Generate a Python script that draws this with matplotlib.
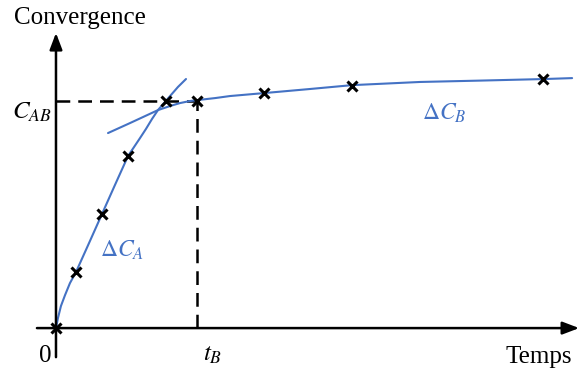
"""Convergence vs time sketch: two fitted branches (dC_A, dC_B) meeting at t_B."""

import matplotlib

matplotlib.use("Agg")
import matplotlib.pyplot as plt

plt.rcParams["font.family"] = ["Liberation Serif", "DejaVu Serif"]
plt.rcParams["mathtext.fontset"] = "stix"

BLUE = "#4472C4"

# measured points (t normalised to t_B, convergence normalised to C_AB)
meas_t = [0.0, 0.142, 0.326, 0.511, 0.780, 1.0, 1.475, 2.099, 3.454]
meas_c = [0.0, 0.247, 0.502, 0.758, 1.0, 1.0, 1.035, 1.066, 1.097]

# first branch (fast rise)
curve_a_t = [0.0, 0.014, 0.035, 0.064, 0.099, 0.142, 0.234, 0.326, 0.418,
             0.511, 0.553, 0.596, 0.638, 0.681, 0.723, 0.766, 0.809, 0.865,
             0.922]
curve_a_c = [0.0, 0.044, 0.097, 0.145, 0.198, 0.247, 0.374, 0.502, 0.630,
             0.758, 0.797, 0.837, 0.877, 0.921, 0.960, 0.991, 1.022, 1.062,
             1.097]

# second branch (slow saturation)
curve_b_t = [0.369, 0.525, 0.723, 0.809, 0.879, 0.950, 1.0, 1.128, 1.234,
             1.475, 1.801, 2.099, 2.582, 3.007, 3.468, 3.660]
curve_b_c = [0.859, 0.903, 0.960, 0.978, 0.991, 1.0, 1.004, 1.013, 1.022,
             1.035, 1.053, 1.070, 1.084, 1.090, 1.097, 1.101]

T_B = 1.0
C_AB = 1.0

fig = plt.figure(figsize=(5.8, 3.71), dpi=100)
ax = fig.add_axes([0, 0, 1, 1])
ax.set_xlim(-0.397, 3.716)
ax.set_ylim(-0.189, 1.445)
ax.axis("off")

# ── axes with arrows ──
arrow = dict(arrowstyle="-|>,head_length=1.0,head_width=0.38", lw=1.8,
             color="black", shrinkA=0, shrinkB=0, mutation_scale=10)
ax.annotate("", xy=(0, 1.30), xytext=(0, -0.128), arrowprops=arrow)
ax.annotate("", xy=(3.71, 0), xytext=(-0.135, 0), arrowprops=arrow)

# ── dashed guides ──
dash = (0, (5.5, 3.2))
ax.plot([0, T_B], [C_AB, C_AB], color="black", lw=1.8, linestyle=dash)
ax.plot([T_B, T_B], [0, C_AB], color="black", lw=1.8, linestyle=dash)

# ── curves ──
ax.plot(curve_a_t, curve_a_c, color=BLUE, lw=1.5, solid_capstyle="round",
        solid_joinstyle="round")
ax.plot(curve_b_t, curve_b_c, color=BLUE, lw=1.5, solid_capstyle="round",
        solid_joinstyle="round")

ax.plot(meas_t, meas_c, linestyle="none", marker="x", color="black",
        markersize=6.5, markeredgewidth=2.2, zorder=5)

# ── labels ──
ax.text(0.170, 1.366, "Convergence", fontsize=18, ha="center", va="center")
ax.text(3.426, -0.128, "Temps", fontsize=18, ha="center", va="center")
ax.text(-0.078, -0.123, "0", fontsize=18, ha="center", va="center")
ax.text(1.11, -0.118, r"$t_B$", fontsize=18, ha="center", va="center")
ax.text(-0.03, 0.95, r"$C_{AB}$", fontsize=18, ha="right", va="center")
ax.text(0.468, 0.344, r"$\mathit{\Delta}C_A$", fontsize=17, ha="center",
        va="center", color=BLUE)
ax.text(2.752, 0.947, r"$\mathit{\Delta}C_B$", fontsize=17, ha="center",
        va="center", color=BLUE)

fig.savefig("out.png", dpi=100)
